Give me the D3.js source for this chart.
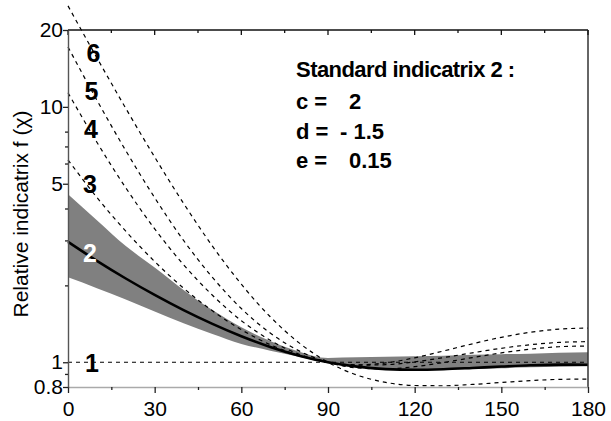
<!DOCTYPE html>
<html>
<head>
<meta charset="utf-8">
<script src="https://cdn.jsdelivr.net/npm/d3@7"></script>
<style>
  body { margin: 0; background: #fff; }
  svg { display: block; }
  text { font-family: "Liberation Sans", Arial, sans-serif; }
</style>
</head>
<body>
<svg id="chart" width="611" height="421"></svg>
<script>
// Scattering angle χ in degrees
const angles = [0, 10, 20, 30, 40, 50, 60, 70, 80, 90, 100, 110, 120, 130, 140, 150, 160, 170, 180];

// Relative indicatrices 1–6
const curve1 = [1, 1, 1, 1, 1, 1, 1, 1, 1, 1, 1, 1, 1, 1, 1, 1, 1, 1, 1];
const curve2 = [2.960, 2.495, 2.128, 1.835, 1.600, 1.413, 1.264, 1.148, 1.061, 1.000, 0.961, 0.940, 0.934, 0.939, 0.950, 0.962, 0.973, 0.979, 0.978];
const curve3 = [6.20, 4.42, 3.26, 2.48, 1.95, 1.59, 1.341, 1.172, 1.063, 1.000, 0.974, 0.978, 1.003, 1.043, 1.089, 1.134, 1.171, 1.196, 1.204];
const curve4 = [11.36, 7.27, 4.82, 3.33, 2.41, 1.83, 1.455, 1.219, 1.075, 1.000, 0.977, 0.994, 1.041, 1.107, 1.181, 1.252, 1.310, 1.348, 1.361];
const curve5 = [17.16, 10.63, 6.74, 4.41, 3.00, 2.15, 1.623, 1.301, 1.108, 1.000, 0.951, 0.942, 0.961, 0.998, 1.043, 1.088, 1.125, 1.150, 1.158];
const curve6 = [24.86, 15.57, 9.87, 6.36, 4.19, 2.85, 2.021, 1.507, 1.191, 1.000, 0.891, 0.834, 0.811, 0.809, 0.819, 0.833, 0.847, 0.857, 0.859];

// Spread around standard indicatrix 2
const bandUpper = [4.55, 3.60, 2.85, 2.35, 1.92, 1.60, 1.37, 1.21, 1.10, 1.04, 1.045, 1.05, 1.055, 1.06, 1.07, 1.075, 1.08, 1.09, 1.095];
const bandLower = [2.15, 1.95, 1.76, 1.58, 1.42, 1.29, 1.18, 1.11, 1.05, 0.99, 0.955, 0.935, 0.93, 0.933, 0.94, 0.948, 0.955, 0.96, 0.965];

const curveNames = ["1", "2", "3", "4", "5", "6"];

// Axis ticks
const xTicks = [0, 30, 60, 90, 120, 150, 180];
const xMinorTicks = [15, 45, 75, 105, 135, 165];
const yTicks = [0.8, 1, 5, 10, 20];
const yTickLabels = ["0.8", "1", "5", "10", "20"];
const yMinorTicks = [0.9, 2, 3, 4, 6, 7, 8];

// Parameter box
const titleText = "Standard indicatrix 2 :";
const paramNames = ["c =", "d =", "e ="];
const paramValues = ["2", "- 1.5", "0.15"];
const yAxisTitle = "Relative indicatrix f (\u03C7)";

const svg = d3.select("#chart");
const plotLeft = 68, plotRight = 588, plotTop = 30, plotBottom = 387;

const x = d3.scaleLinear().domain([0, 180]).range([plotLeft, plotRight]);
const y = d3.scaleLog().domain([0.8, 20]).range([plotBottom, plotTop]);

const line = d3.line()
  .x((d, i) => x(angles[i]))
  .y(d => y(d))
  .curve(d3.curveMonotoneX);

const area = d3.area()
  .x((d, i) => x(angles[i]))
  .y0((d, i) => y(bandLower[i]))
  .y1(d => y(d))
  .curve(d3.curveMonotoneX);

// shaded spread
svg.append("path")
  .attr("d", area(bandUpper))
  .attr("fill", "#808080");

// dashed indicatrices
const dashed = [curve1, curve3, curve4, curve5, curve6];
svg.selectAll("path.dashed")
  .data(dashed)
  .enter().append("path")
  .attr("class", "dashed")
  .attr("d", d => line(d))
  .attr("fill", "none")
  .attr("stroke", "#000")
  .attr("stroke-width", 1.2)
  .attr("stroke-dasharray", "4,4");

// standard indicatrix 2
svg.append("path")
  .attr("d", line(curve2))
  .attr("fill", "none")
  .attr("stroke", "#000")
  .attr("stroke-width", 2.6);

// frame: top and right
svg.append("line").attr("x1", plotLeft).attr("x2", plotRight).attr("y1", plotTop).attr("y2", plotTop)
  .attr("stroke", "#111").attr("stroke-width", 1.5);
svg.append("line").attr("x1", plotRight).attr("x2", plotRight).attr("y1", plotTop).attr("y2", plotBottom)
  .attr("stroke", "#333").attr("stroke-width", 1.5);

// top inner ticks
const topTicks = svg.append("g").attr("transform", `translate(0,${plotTop})`);
topTicks.selectAll("line.maj").data(xTicks).enter().append("line")
  .attr("x1", d => x(d)).attr("x2", d => x(d)).attr("y1", 0).attr("y2", 5)
  .attr("stroke", "#111").attr("stroke-width", 1.3);
topTicks.selectAll("line.min").data(xMinorTicks).enter().append("line")
  .attr("x1", d => x(d)).attr("x2", d => x(d)).attr("y1", 0).attr("y2", 3)
  .attr("stroke", "#111").attr("stroke-width", 1.3);

// bottom axis
const xAxis = svg.append("g").attr("transform", `translate(0,${plotBottom})`)
  .call(d3.axisBottom(x).tickValues(xTicks).tickSizeInner(6).tickSizeOuter(0).tickPadding(8));
svg.append("g").attr("transform", `translate(0,${plotBottom})`)
  .call(d3.axisBottom(x).tickValues(xMinorTicks).tickSizeInner(3).tickSizeOuter(0).tickFormat(""))
  .select(".domain").remove();
xAxis.select(".domain").attr("stroke", "#aaa").attr("stroke-width", 1.6);
xAxis.selectAll(".tick text").attr("font-size", 21).attr("fill", "#000")
  .style("font-family", "Liberation Sans, Arial, sans-serif");

// left axis
const yAxis = svg.append("g").attr("transform", `translate(${plotLeft},0)`)
  .call(d3.axisLeft(y).tickValues(yTicks).tickSizeInner(5).tickSizeOuter(0).tickPadding(0)
    .tickFormat((d, i) => yTickLabels[i]));
svg.append("g").attr("transform", `translate(${plotLeft},0)`)
  .call(d3.axisLeft(y).tickValues(yMinorTicks).tickSizeInner(3).tickSizeOuter(0).tickFormat(""))
  .select(".domain").remove();
yAxis.select(".domain").attr("stroke", "#555").attr("stroke-width", 1.4);
yAxis.selectAll(".tick text").attr("font-size", 21).attr("fill", "#000")
  .style("font-family", "Liberation Sans, Arial, sans-serif");
svg.selectAll(".tick line").attr("stroke", "#222").attr("stroke-width", 1.3);

// y axis title
svg.append("text")
  .attr("transform", "translate(28,214) rotate(-90)")
  .attr("text-anchor", "middle")
  .attr("font-size", 21)
  .attr("fill", "#000")
  .text(yAxisTitle);

// curve numbers near χ = 0
const labelPos = [[92, 372], [90, 262], [90, 193], [91, 138], [91.5, 100], [93.5, 62]];
svg.selectAll("text.cname")
  .data(curveNames)
  .enter().append("text")
  .attr("class", "cname")
  .attr("x", (d, i) => labelPos[i][0])
  .attr("y", (d, i) => labelPos[i][1])
  .attr("text-anchor", "middle")
  .attr("font-size", 25)
  .attr("font-weight", "bold")
  .attr("fill", (d, i) => i === 1 ? "#fff" : "#000")
  .text(d => d);

// parameter box
const box = svg.append("g").attr("font-weight", "bold").attr("font-size", 22).attr("fill", "#000");
box.append("text").attr("x", 296).attr("y", 77).attr("textLength", 219).text(titleText);
const rowY = [109, 138.5, 168];
const valueX = [349, 340, 349];
box.selectAll("text.pname").data(paramNames).enter().append("text")
  .attr("class", "pname")
  .attr("x", 296).attr("y", (d, i) => rowY[i]).text(d => d);
box.selectAll("text.pval").data(paramValues).enter().append("text")
  .attr("class", "pval")
  .attr("x", (d, i) => valueX[i]).attr("y", (d, i) => rowY[i]).text(d => d);
</script>
</body>
</html>
